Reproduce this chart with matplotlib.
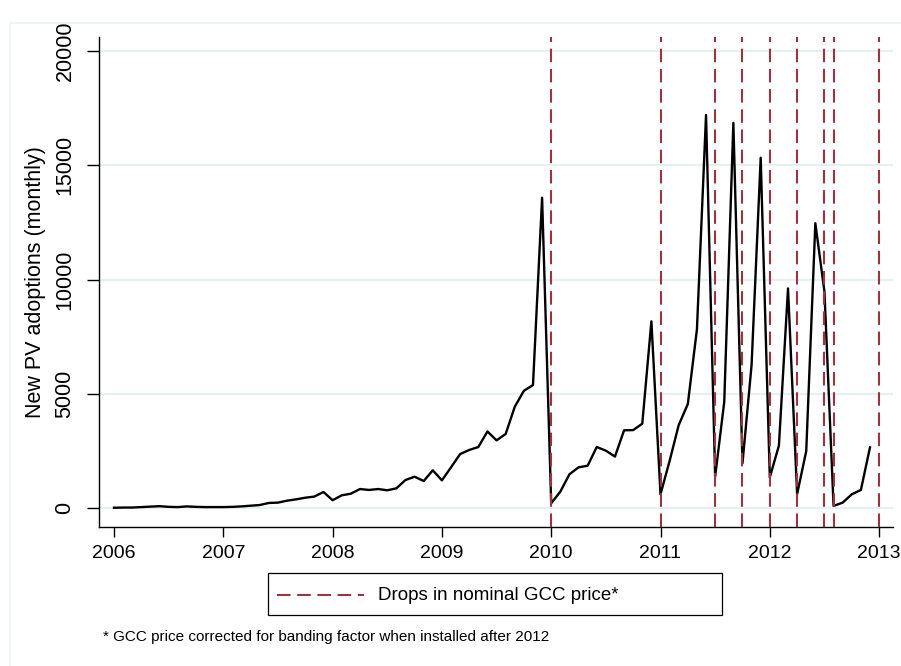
import numpy as np
import matplotlib
matplotlib.use("Agg")
import matplotlib.pyplot as plt
from matplotlib.lines import Line2D
from matplotlib.patches import Rectangle

# monthly new PV adoptions, Jan 2006 - Dec 2012
adopt_2006 = [10, 20, 20, 40, 60, 80, 50, 40, 70, 50, 40, 40]
adopt_2007 = [40, 50, 70, 100, 130, 220, 235, 320, 380, 450, 500, 700]
adopt_2008 = [340, 555, 625, 830, 790, 830, 775, 860, 1225, 1370, 1180, 1650]
adopt_2009 = [1210, 1780, 2360, 2540, 2670, 3350, 2960, 3240, 4430, 5130, 5380, 13580]
adopt_2010 = [205, 715, 1475, 1780, 1850, 2670, 2510, 2250, 3400, 3410, 3690, 8170]
adopt_2011 = [600, 2060, 3630, 4550, 7820, 17200, 1370, 4650, 16860, 1955, 6260, 15330]
adopt_2012 = [1340, 2730, 9610, 610, 2490, 12460, 9470, 90, 235, 600, 790, 2655]
first_year = 2006

# dates of drops in the nominal GCC price
price_drops = [2010.0, 2011.0, 2011.5, 2011.75, 2012.0, 2012.25, 2012.5, 2012 + 7 / 12, 2013.0]

year_ticks = list(range(2006, 2014))
y_ticks = [0, 5000, 10000, 15000, 20000]

legend_label = "Drops in nominal GCC price*"
note = "* GCC price corrected for banding factor when installed after 2012"
y_label = "New PV adoptions (monthly)"

adoptions = (adopt_2006 + adopt_2007 + adopt_2008 + adopt_2009
             + adopt_2010 + adopt_2011 + adopt_2012)
months = first_year + np.arange(len(adoptions)) / 12

W, H = 901, 666
fig = plt.figure(figsize=(W / 100, H / 100), dpi=100)
sans = ["Liberation Sans", "DejaVu Sans"]
drop_color = "#993440"

# faint graph-region outline
fig.add_artist(Rectangle((10 / W, -0.1), 1.2, 1 - 23 / H + 0.1,
                         transform=fig.transFigure, fill=False,
                         edgecolor="#eef2f4", lw=1.2))

ax = fig.add_axes([99 / W, (H - 527) / H, (893 - 99) / W, (527 - 37) / H])
ax.set_xlim(2006 - 15 / 109.3, 2006 + (893 - 114) / 109.3)
ax.set_ylim(-19 / 0.02285, (508 - 37) / 0.02285)

for v in y_ticks:
    ax.axhline(v, color="#e7eff1", lw=1.6, zorder=1)

ax.plot(months, adoptions, color="black", lw=1.7, zorder=3)
for d in price_drops:
    ax.axvline(d, color=drop_color, lw=1.5, dashes=(6.5, 3.2), zorder=4)

for side in ["top", "right"]:
    ax.spines[side].set_visible(False)
ax.spines["left"].set_linewidth(1.0)
ax.spines["bottom"].set_linewidth(1.0)

ax.set_xticks(year_ticks)
ax.set_xticklabels([str(y) for y in year_ticks], family=sans, fontsize=14)
ax.set_yticks(y_ticks)
ax.set_yticklabels([str(v) for v in y_ticks], rotation=90, va="center",
                   family=sans, fontsize=15.5)
ax.tick_params(axis="x", length=7, width=1, pad=6)
ax.tick_params(axis="y", length=9, width=1, pad=8)
ax.set_ylabel(y_label, family=sans, fontsize=15.5, labelpad=6)

# legend box below the axes
fig.add_artist(Rectangle((268 / W, (H - 615) / H), (722 - 268) / W, 42 / H,
                         transform=fig.transFigure, fill=False,
                         edgecolor="black", lw=0.9))
fig.add_artist(Line2D([277 / W, 364 / W], [(H - 595) / H] * 2,
                      transform=fig.transFigure, color=drop_color, lw=1.5,
                      dashes=(6.5, 3.2)))
fig.text(378 / W, (H - 595) / H, legend_label, family=sans, fontsize=13.5,
         va="center", ha="left")

fig.text(103 / W, (H - 637) / H, note, family=sans, fontsize=11,
         va="center", ha="left")

fig.savefig("out.png", dpi=100, facecolor="white")
